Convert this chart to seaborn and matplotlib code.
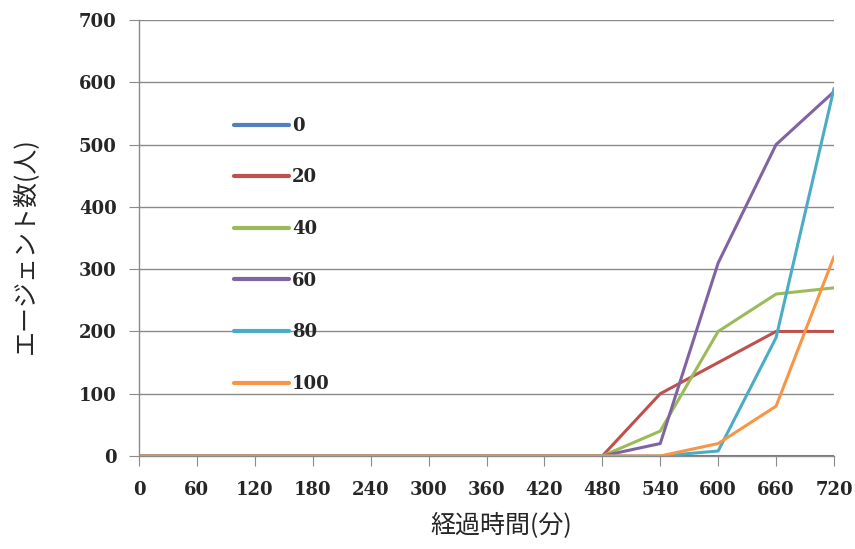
import matplotlib
matplotlib.use('Agg')
import matplotlib.pyplot as plt
import seaborn as sns
import pandas as pd

# 経過時間(分)
minutes = [0, 60, 120, 180, 240, 300, 360, 420, 480, 540, 600, 660, 720]
series_names = ['0', '20', '40', '60', '80', '100']
s0 = [0, 0, 0, 0, 0, 0, 0, 0, 0, 0, 0, 0, 0]
s20 = [0, 0, 0, 0, 0, 0, 0, 0, 0, 100, 150, 200, 200]
s40 = [0, 0, 0, 0, 0, 0, 0, 0, 0, 40, 200, 260, 270]
s60 = [0, 0, 0, 0, 0, 0, 0, 0, 0, 20, 310, 500, 585]
s80 = [0, 0, 0, 0, 0, 0, 0, 0, 0, 0, 8, 190, 590]
s100 = [0, 0, 0, 0, 0, 0, 0, 0, 0, 0, 20, 80, 320]
colors = ['#4F81BD', '#C0504D', '#9BBB59', '#8064A2', '#4BACC6', '#F79646']

rows = []
for name, vals in zip(series_names, [s0, s20, s40, s60, s80, s100]):
    for m, v in zip(minutes, vals):
        rows.append({'経過時間(分)': m, 'エージェント数(人)': v, '系列': name})
df = pd.DataFrame(rows)

sns.set_style('white')
plt.rcParams['font.family'] = ['Noto Sans CJK JP', 'DejaVu Sans']

fig = plt.figure(figsize=(8.55, 5.49), dpi=100)
ax = fig.add_axes([139 / 855, 1 - 456 / 549, (834 - 139) / 855, (456 - 20) / 549])

sns.lineplot(data=df, x='経過時間(分)', y='エージェント数(人)', hue='系列',
             hue_order=series_names, palette=colors, linewidth=2.2, ax=ax)

ax.set_xlim(0, 720)
ax.set_ylim(0, 700)
ax.set_xticks(minutes)
ax.set_yticks(range(0, 701, 100))
ax.yaxis.grid(True, color='#8a8a8a', linewidth=1)
ax.set_axisbelow(True)

tick_font = {'family': 'DejaVu Serif', 'weight': 'bold', 'size': 13}
ax.set_xticklabels([str(m) for m in minutes], fontdict=tick_font)
ax.set_yticklabels([str(v) for v in range(0, 701, 100)], fontdict=tick_font)
ax.tick_params(axis='both', direction='out', length=7, color='#8a8a8a',
               left=True, bottom=True)
ax.tick_params(axis='x', pad=11)
ax.tick_params(axis='y', pad=9)

for side in ['top', 'right']:
    ax.spines[side].set_visible(False)
for side in ['left', 'bottom']:
    ax.spines[side].set_color('#8a8a8a')
    ax.spines[side].set_linewidth(1)

ax.set_xlabel('経過時間(分)', fontsize=18)
ax.set_ylabel('エージェント数(人)', fontsize=18)
ax.xaxis.set_label_coords(0.521, -0.13)
ax.yaxis.set_label_coords(-0.146, 0.482)

leg = ax.legend(title=None, loc='upper left', bbox_to_anchor=(0.113, 0.815),
                frameon=False, handlelength=3.05, handletextpad=0.17,
                labelspacing=1.86, prop={'family': 'DejaVu Serif',
                                         'weight': 'bold', 'size': 13})
for line in leg.get_lines():
    line.set_linewidth(3)

fig.savefig('out.png', dpi=100)
